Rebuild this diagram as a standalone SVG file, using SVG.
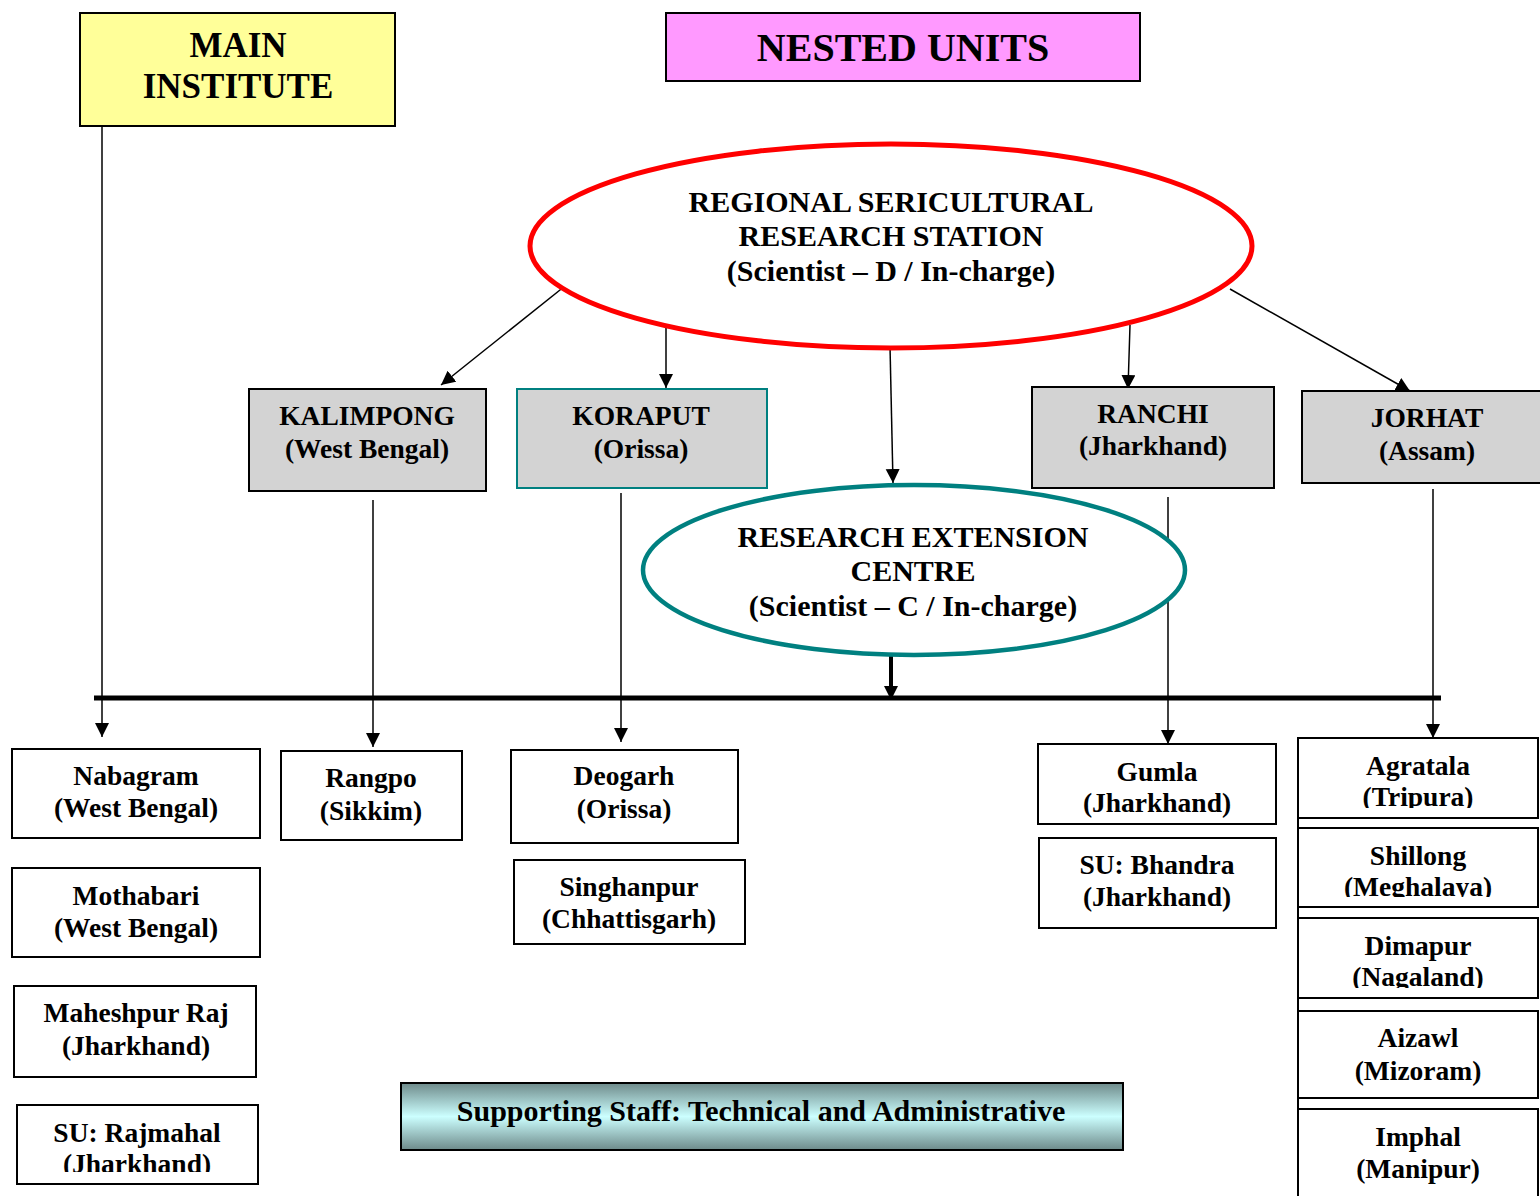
<svg xmlns="http://www.w3.org/2000/svg" width="1540" height="1196" viewBox="0 0 1540 1196">
<style>
text{font-family:"Liberation Serif","Times New Roman",serif;font-weight:bold;fill:#000;text-anchor:middle}
.t{font-size:27.5px}
.e{font-size:30px}
.box{fill:#fff;stroke:#000;stroke-width:2}
.gray{fill:#D3D3D3;stroke:#000;stroke-width:2}
.ln{stroke:#000;stroke-width:1.5;fill:none}
</style>
<defs>
<marker id="ah" markerUnits="userSpaceOnUse" markerWidth="14" markerHeight="16" viewBox="0 0 14 16" refX="14" refY="7" orient="auto">
<path d="M0,0 L14,7 L0,14 Z" fill="#000"/>
</marker>
<linearGradient id="sg" x1="0" y1="0" x2="0" y2="1">
<stop offset="0" stop-color="#6E8A8A"/>
<stop offset="0.5" stop-color="#CCFFFF"/>
<stop offset="1" stop-color="#6E8A8A"/>
</linearGradient>
<clipPath id="c1"><rect x="1297" y="738" width="243" height="70"/></clipPath>
<clipPath id="c2"><rect x="1297" y="828" width="243" height="69"/></clipPath>
<clipPath id="c3"><rect x="1297" y="918" width="243" height="70"/></clipPath>
<clipPath id="c4"><rect x="17" y="1105" width="241" height="67"/></clipPath>
</defs>

<g id="connectors">
<line class="ln" x1="102" y1="126" x2="102" y2="737" marker-end="url(#ah)"/>
<line class="ln" x1="565" y1="286" x2="441" y2="385" marker-end="url(#ah)"/>
<line class="ln" x1="666" y1="323" x2="666" y2="388" marker-end="url(#ah)"/>
<line class="ln" x1="890" y1="346" x2="893" y2="483" marker-end="url(#ah)"/>
<line class="ln" x1="1130" y1="325" x2="1128" y2="389" marker-end="url(#ah)"/>
<line class="ln" x1="1230" y1="289" x2="1410" y2="391" marker-end="url(#ah)"/>
<line class="ln" x1="373" y1="500" x2="373" y2="747" marker-end="url(#ah)"/>
<line class="ln" x1="621" y1="493" x2="621" y2="742" marker-end="url(#ah)"/>
<line class="ln" x1="1168" y1="497" x2="1168" y2="744" marker-end="url(#ah)"/>
<line class="ln" x1="1433" y1="489" x2="1433" y2="738" marker-end="url(#ah)"/>
<line x1="94" y1="698" x2="1441" y2="698" stroke="#000" stroke-width="5"/>
<line x1="891" y1="655" x2="891" y2="700" stroke="#000" stroke-width="4" marker-end="url(#ah)"/>
</g>

<g id="main-institute">
<rect x="80" y="13" width="315" height="113" fill="#FFFF99" stroke="#000" stroke-width="2"/>
<text x="238" y="57" style="font-size:35px">MAIN</text>
<text x="238" y="98" style="font-size:35px">INSTITUTE</text>
</g>

<g id="nested-units">
<rect x="666" y="13" width="474" height="68" fill="#FF99FF" stroke="#000" stroke-width="2"/>
<text x="903" y="61" style="font-size:40px">NESTED UNITS</text>
</g>

<g id="rsrs">
<ellipse cx="891" cy="246" rx="361" ry="102" fill="#fff" stroke="#FF0000" stroke-width="5"/>
<text class="e" x="891" y="212">REGIONAL SERICULTURAL</text>
<text class="e" x="891" y="246">RESEARCH STATION</text>
<text class="e" x="891" y="281">(Scientist – D / In-charge)</text>
</g>

<g id="kalimpong">
<rect class="gray" x="249" y="389" width="237" height="102"/>
<text class="t" x="367" y="425">KALIMPONG</text>
<text class="t" x="367" y="458">(West Bengal)</text>
</g>

<g id="koraput">
<rect x="517" y="389" width="250" height="99" fill="#D3D3D3" stroke="#008080" stroke-width="2"/>
<text class="t" x="641" y="425">KORAPUT</text>
<text class="t" x="641" y="458">(Orissa)</text>
</g>

<g id="ranchi">
<rect class="gray" x="1032" y="387" width="242" height="101"/>
<text class="t" x="1153" y="423">RANCHI</text>
<text class="t" x="1153" y="455">(Jharkhand)</text>
</g>

<g id="jorhat">
<rect class="gray" x="1302" y="391" width="245" height="92"/>
<text class="t" x="1427" y="427">JORHAT</text>
<text class="t" x="1427" y="460">(Assam)</text>
</g>

<g id="rec">
<ellipse cx="914" cy="570" rx="271" ry="85" fill="#fff" stroke="#008080" stroke-width="4.5"/>
<text class="e" x="913" y="547">RESEARCH EXTENSION</text>
<text class="e" x="913" y="581">CENTRE</text>
<text class="e" x="913" y="616">(Scientist – C / In-charge)</text>
</g>

<g id="nabagram">
<rect class="box" x="12" y="749" width="248" height="89"/>
<text class="t" x="136" y="785">Nabagram</text>
<text class="t" x="136" y="817">(West Bengal)</text>
</g>
<g id="mothabari">
<rect class="box" x="12" y="868" width="248" height="89"/>
<text class="t" x="136" y="905">Mothabari</text>
<text class="t" x="136" y="937">(West Bengal)</text>
</g>
<g id="maheshpur">
<rect class="box" x="14" y="986" width="242" height="91"/>
<text class="t" x="136" y="1022">Maheshpur Raj</text>
<text class="t" x="136" y="1055">(Jharkhand)</text>
</g>
<g id="rajmahal">
<rect class="box" x="17" y="1105" width="241" height="79"/>
<g clip-path="url(#c4)">
<text class="t" x="137" y="1142">SU: Rajmahal</text>
<text class="t" x="137" y="1173">(Jharkhand)</text>
</g>
</g>
<g id="rangpo">
<rect class="box" x="281" y="751" width="181" height="89"/>
<text class="t" x="371" y="787">Rangpo</text>
<text class="t" x="371" y="820">(Sikkim)</text>
</g>
<g id="deogarh">
<rect class="box" x="511" y="750" width="227" height="93"/>
<text class="t" x="624" y="785">Deogarh</text>
<text class="t" x="624" y="818">(Orissa)</text>
</g>
<g id="singhanpur">
<rect class="box" x="514" y="860" width="231" height="84"/>
<text class="t" x="629" y="896">Singhanpur</text>
<text class="t" x="629" y="928">(Chhattisgarh)</text>
</g>
<g id="gumla">
<rect class="box" x="1038" y="744" width="238" height="80"/>
<text class="t" x="1157" y="781">Gumla</text>
<text class="t" x="1157" y="812">(Jharkhand)</text>
</g>
<g id="bhandra">
<rect class="box" x="1039" y="838" width="237" height="90"/>
<text class="t" x="1157" y="874">SU: Bhandra</text>
<text class="t" x="1157" y="906">(Jharkhand)</text>
</g>

<line x1="1298" y1="738" x2="1298" y2="1196" stroke="#000" stroke-width="2"/>
<g id="agratala">
<rect class="box" x="1298" y="738" width="240" height="80"/>
<g clip-path="url(#c1)">
<text class="t" x="1418" y="775">Agratala</text>
<text class="t" x="1418" y="806">(Tripura)</text>
</g>
</g>
<g id="shillong">
<rect class="box" x="1298" y="828" width="240" height="79"/>
<g clip-path="url(#c2)">
<text class="t" x="1418" y="865">Shillong</text>
<text class="t" x="1418" y="896">(Meghalaya)</text>
</g>
</g>
<g id="dimapur">
<rect class="box" x="1298" y="918" width="240" height="80"/>
<g clip-path="url(#c3)">
<text class="t" x="1418" y="955">Dimapur</text>
<text class="t" x="1418" y="986">(Nagaland)</text>
</g>
</g>
<g id="aizawl">
<rect class="box" x="1298" y="1011" width="240" height="87"/>
<text class="t" x="1418" y="1047">Aizawl</text>
<text class="t" x="1418" y="1080">(Mizoram)</text>
</g>
<g id="imphal">
<rect class="box" x="1298" y="1109" width="240" height="100"/>
<text class="t" x="1418" y="1146">Imphal</text>
<text class="t" x="1418" y="1178">(Manipur)</text>
</g>

<g id="supporting-staff">
<rect x="401" y="1083" width="722" height="67" fill="url(#sg)" stroke="#000" stroke-width="2"/>
<text x="761" y="1121" style="font-size:30px">Supporting Staff: Technical and Administrative</text>
</g>
</svg>
